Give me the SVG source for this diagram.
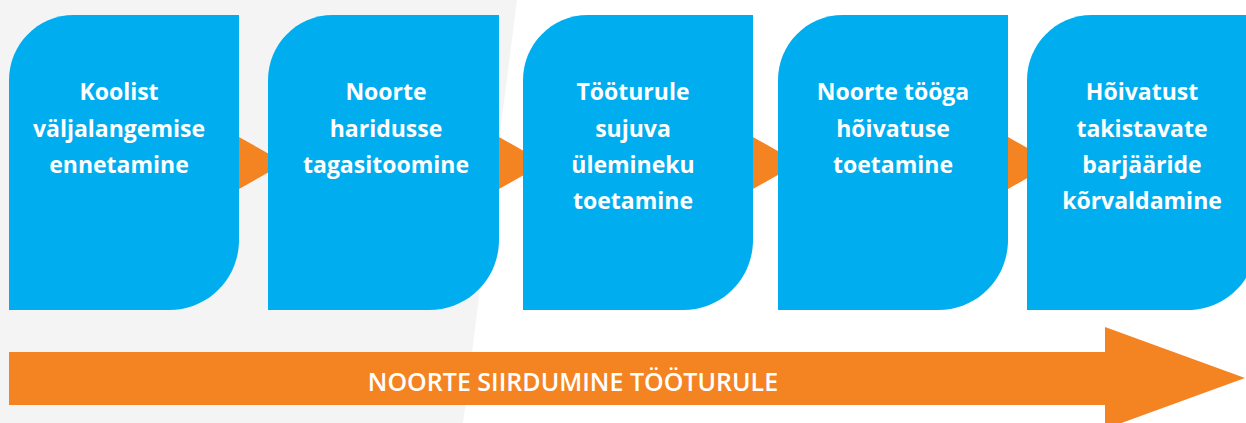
<svg xmlns="http://www.w3.org/2000/svg" width="1246" height="423" viewBox="0 0 1246 423">
  <style>
    .box { fill: #00AEEF; }
    .tri { fill: #F48422; }
    .lbl { font-family: "Open Sans", "Noto Sans", sans-serif; font-weight: 700; font-size: 23px; fill: #FFFFFF; text-anchor: middle; }
    .big { font-family: "Open Sans", "Noto Sans", sans-serif; font-weight: 600; font-size: 25px; fill: #FFFFFF; text-anchor: middle; }
  </style>
  <rect x="0" y="0" width="1246" height="423" fill="#FFFFFF"/>
  <polygon points="0,0 517,0 463,423 0,423" fill="#F4F4F4"/>

  <g id="connectors">
    <polygon class="tri" points="239,137 285,163 239,189"/>
    <polygon class="tri" points="499,137 545,163 499,189"/>
    <polygon class="tri" points="753,137 799,163 753,189"/>
    <polygon class="tri" points="1008,137 1054,163 1008,189"/>
    <polygon class="tri" points="9,352 1105,352 1105,327 1245,378 1105,429 1105,405 9,405"/>
  </g>

  <g id="node1">
    <path class="box" d="M9,310 V80 C9,45 37,15 74,15 H239 V240 C239,278 209,310 169,310 Z"/>
    <text class="lbl" x="119" y="100">Koolist</text>
    <text class="lbl" x="119" y="137">väljalangemise</text>
    <text class="lbl" x="119" y="173">ennetamine</text>
  </g>
  <g id="node2">
    <path class="box" d="M268,310 V80 C268,45 296,15 333,15 H499 V240 C499,278 469,310 429,310 Z"/>
    <text class="lbl" x="386" y="100">Noorte</text>
    <text class="lbl" x="386" y="137">haridusse</text>
    <text class="lbl" x="386" y="173">tagasitoomine</text>
  </g>
  <g id="node3">
    <path class="box" d="M523,310 V80 C523,45 551,15 588,15 H753 V240 C753,278 723,310 683,310 Z"/>
    <text class="lbl" x="633" y="100">Tööturule</text>
    <text class="lbl" x="633" y="137">sujuva</text>
    <text class="lbl" x="633" y="173">ülemineku</text>
    <text class="lbl" x="633" y="209">toetamine</text>
  </g>
  <g id="node4">
    <path class="box" d="M778,310 V80 C778,45 806,15 843,15 H1008 V240 C1008,278 978,310 938,310 Z"/>
    <text class="lbl" x="893" y="100">Noorte tööga</text>
    <text class="lbl" x="893" y="137">hõivatuse</text>
    <text class="lbl" x="893" y="173">toetamine</text>
  </g>
  <g id="node5">
    <path class="box" d="M1027,310 V80 C1027,45 1055,15 1092,15 H1257 V240 C1257,278 1227,310 1187,310 Z"/>
    <text class="lbl" x="1142" y="100">Hõivatust</text>
    <text class="lbl" x="1142" y="137">takistavate</text>
    <text class="lbl" x="1142" y="173">barjääride</text>
    <text class="lbl" x="1142" y="209">kõrvaldamine</text>
  </g>
  <g id="node6">
    <text class="big" x="573" y="391">NOORTE SIIRDUMINE TÖÖTURULE</text>
  </g>
</svg>
